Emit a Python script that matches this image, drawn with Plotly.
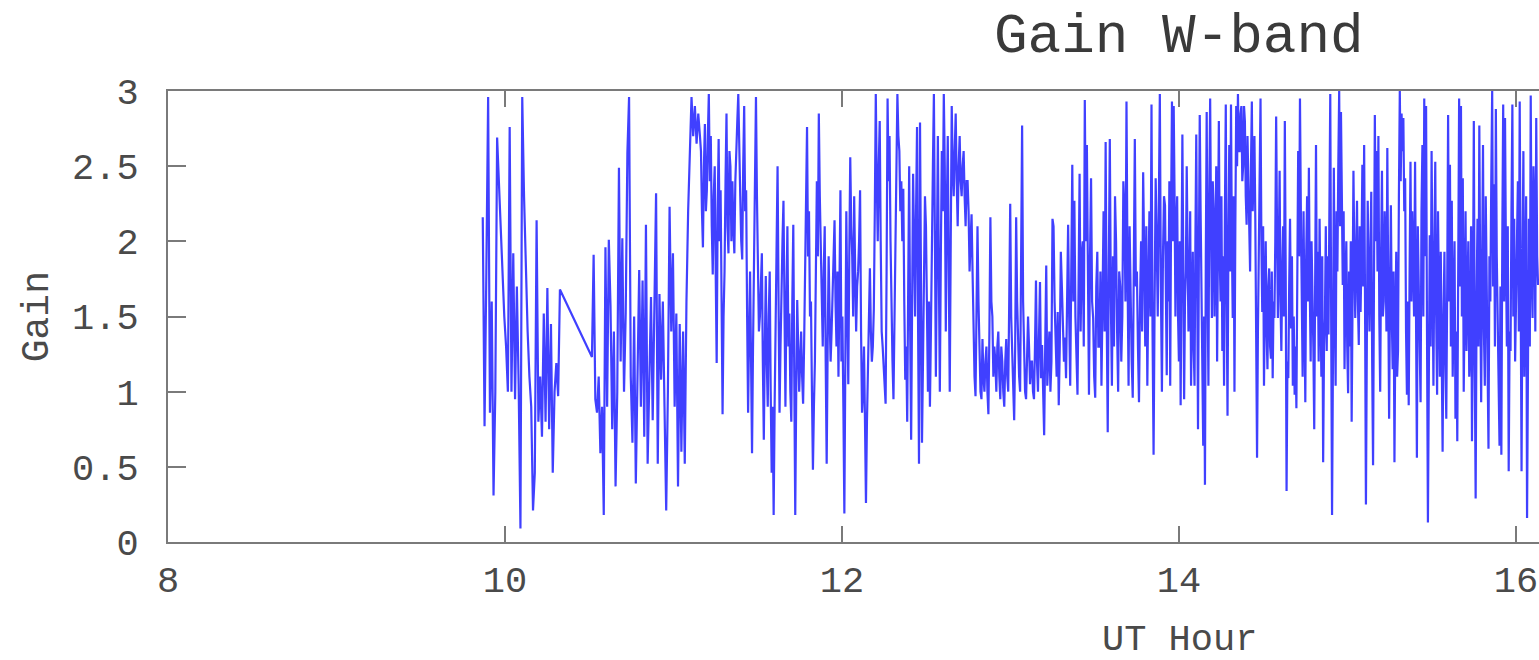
import numpy as np
import plotly.graph_objects as go

# W-band gain samples, grouped by observing block: (start UT hour, end UT hour), gain values
block1_hours = (9.868, 10.326)
block1_gain = [2.16, 0.77, 1.8, 2.96, 0.86, 1.6, 0.31, 1.0, 2.69, 2.4, 2.1, 1.7, 1.5, 1.3, 1.0,
               2.76, 1.0, 1.92, 0.95, 1.7, 1.05, 0.09, 2.96, 2.3, 1.8, 1.4, 1.1, 0.9, 0.21, 0.46,
               2.14, 0.8, 1.1, 0.7, 1.52, 0.8, 1.69, 0.75, 1.45, 0.46, 1.0, 1.19, 0.97, 1.68]

block2_hours = (10.516, 11.157)
block2_gain = [1.23, 1.91, 0.95, 0.86, 1.1, 0.59, 0.9, 0.18, 1.96, 0.9, 2.01, 1.57, 0.75, 1.4,
               0.37, 1.0, 2.49, 1.2, 2.02, 1.0, 1.52, 2.59, 2.96, 1.1, 0.66, 1.5, 0.39, 1.0, 1.81,
               0.9, 1.74, 0.7, 2.11, 0.52, 1.2, 1.63, 0.81, 1.5, 2.32, 0.52, 1.65, 1.08, 1.6, 0.9,
               0.21, 1.0, 2.23, 1.4, 1.92, 0.9, 1.52, 0.37, 1.45, 0.6, 1.4, 0.52, 1.6, 2.2, 2.67,
               2.96, 2.7, 2.9, 2.65, 2.85, 2.7]

block3_hours = (11.163, 12.457)
block3_gain = [2.6, 2.2, 1.96, 2.5, 2.78, 2.2, 2.34, 2.7, 2.98, 2.4, 2.7, 2.1, 1.78, 2.3, 2.5, 1.8,
               1.19, 2.2, 2.68, 2.0, 2.34, 1.6, 0.85, 1.5, 1.8, 2.4, 2.85, 2.1, 1.92, 2.6, 2.5, 2.0,
               2.4, 2.1, 1.92, 2.4, 2.55, 2.8, 2.98, 2.5, 2.3, 2.0, 1.88, 2.5, 2.9, 2.2, 2.34, 1.5,
               0.86, 1.4, 1.8, 1.2, 0.59, 1.3, 1.9, 2.5, 2.96, 2.3, 1.96, 1.4, 1.5, 1.8, 1.92, 1.2,
               0.68, 1.3, 1.77, 1.2, 0.9, 1.5, 1.8, 1.0, 0.46, 0.9, 0.18, 0.9, 1.4, 2.0, 2.5, 1.6,
               0.86, 1.3, 1.74, 2.0, 2.27, 1.5, 0.9, 1.6, 2.1, 1.3, 1.52, 1.0, 0.8, 1.6, 2.11, 1.1,
               0.18, 1.0, 1.61, 1.3, 1.0, 1.2, 1.4, 1.1, 0.92, 1.3, 1.7, 2.3, 2.76, 1.9, 2.2, 1.5,
               1.6, 1.0, 0.48, 0.9, 1.2, 1.8, 2.4, 1.9, 2.85, 2.3, 2.0, 1.5, 1.3, 1.8, 2.1, 1.2,
               0.52, 1.3, 1.9, 1.5, 1.2, 1.4, 1.6, 1.9, 2.14, 1.6, 1.3, 1.8, 1.1, 1.7, 2.34, 1.2,
               1.5, 0.9, 0.19, 1.2, 2.2, 1.6, 1.05, 1.9, 2.56, 2.1, 1.9, 1.5, 2.3, 1.8, 1.4, 1.7,
               1.8, 2.0, 2.34, 1.4, 0.86, 1.0, 1.3, 0.8, 0.26, 0.8, 1.1, 1.5, 1.82, 1.4, 1.2, 1.3,
               1.55, 2.2, 2.98, 2.4, 2.0, 2.5, 2.8, 2.0, 1.4, 1.3, 1.17, 1.0, 0.92, 1.8, 2.95, 2.4,
               2.7, 2.0, 1.52, 1.2, 0.95, 1.5, 1.9, 2.5, 2.98, 2.7, 2.6, 2.2, 2.4, 2.0, 2.35, 1.6,
               1.08, 1.3, 0.8, 1.7, 2.5, 1.4, 0.68, 1.6, 2.45, 2.0, 1.5, 2.2, 2.76, 1.5, 0.52]

block4_hours = (12.463, 13.163)
block4_gain = [2.79, 1.5, 0.66, 1.2, 1.6, 2.3, 2.1, 1.4, 1.0, 1.6, 0.9, 1.4, 1.8, 2.5, 2.98, 2.0,
               1.1, 1.9, 2.7, 1.8, 1.0, 1.9, 2.6, 2.2, 2.98, 2.5, 1.4, 2.2, 2.7, 1.8, 1.0, 2.0,
               2.9, 2.5, 2.3, 2.6, 2.85, 2.4, 2.1, 2.5, 2.7, 2.4, 2.3, 2.5, 2.6, 2.3, 2.1, 2.4,
               2.4, 2.2, 1.8, 2.0, 2.18, 1.8, 1.3, 1.1, 0.97, 1.5, 2.1, 1.6, 1.2, 1.0, 0.95,
               1.35, 1.1, 1.0, 1.2, 1.3, 1.0, 0.85, 1.4, 2.16, 1.6, 1.5, 1.1, 1.3, 1.2, 1.0, 1.3,
               1.4, 1.1, 0.95, 1.3, 1.2, 1.0, 0.9, 1.2, 1.35, 1.1, 1.0, 1.6, 2.25, 1.5, 1.2, 1.0,
               0.81, 1.3, 2.16, 1.6, 1.3, 1.1, 1.0, 1.7, 2.77, 1.6, 1.2, 1.0, 0.95, 1.2, 1.5, 1.3,
               1.05, 1.2, 1.2, 1.0, 0.95, 1.3, 1.74, 1.2, 1.0]

block5_hours = (13.175, 13.911)
block5_gain = [1.73, 1.09, 1.31, 1.04, 0.71, 1.3, 1.84, 1.04, 1.25, 1.40, 1.0, 1.2, 2.15, 2.1,
               1.6, 1.36, 1.1, 1.53, 0.91, 1.3, 1.93, 1.7, 1.45, 1.2, 1.36, 1.09, 1.6, 2.11, 1.5,
               1.04, 1.8, 2.51, 1.6, 2.27, 1.5, 1.2, 0.98, 1.7, 2.45, 1.4, 1.9, 2.0, 1.3, 2.94,
               2.0, 2.64, 1.5, 0.98, 1.9, 2.42, 1.6, 1.49, 1.1, 0.96, 1.7, 1.93, 1.3, 1.3, 1.8,
               1.04, 1.6, 2.2, 1.4, 2.66, 1.5, 0.73, 1.8, 2.68, 1.6, 1.04, 1.9, 1.3, 2.3, 2.0,
               1.4, 1.0, 1.8, 1.7, 1.2, 1.5, 2.4, 2.2, 1.6, 2.93, 1.8, 1.04, 2.1, 1.6, 1.2, 0.96,
               1.9, 2.68, 1.7, 1.8, 1.3, 0.93, 1.6, 2.0, 1.4, 2.46, 1.9, 1.3, 2.1, 1.04, 1.7, 2.2,
               1.5, 2.91, 1.4, 0.58, 1.6, 2.42, 2.0, 1.5, 2.2, 2.98, 1.7, 1.0, 1.9, 2.3]

block6_hours = (13.917, 14.659)
block6_gain = [2.24, 1.6, 1.11, 2.0, 1.6, 2.4, 1.04, 2.2, 2.93, 2.0, 2.9, 2.3, 1.5, 2.1, 2.3, 1.5,
               1.2, 2.0, 0.91, 1.8, 2.71, 1.9, 0.95, 1.6, 1.8, 2.5, 2.1, 1.4, 1.6, 2.2, 1.04, 1.7,
               1.93, 1.3, 1.04, 2.0, 2.71, 1.8, 0.75, 1.9, 2.84, 2.2, 1.7, 1.2, 0.64, 1.5, 0.38,
               1.9, 2.86, 1.7, 1.04, 2.3, 2.95, 2.1, 1.49, 2.4, 2.2, 1.5, 1.93, 2.5, 1.2, 2.2, 2.8,
               1.9, 1.6, 2.3, 1.27, 1.9, 1.04, 2.2, 2.91, 1.6, 0.84, 2.0, 2.64, 1.8, 2.91, 2.0,
               1.49, 2.3, 1.0, 2.1, 2.9, 2.5, 2.98, 2.6, 2.6, 2.85, 2.9, 2.4, 2.5, 2.9, 2.8, 2.3,
               2.11, 2.7, 2.4, 2.0, 1.8, 2.5, 2.93, 2.2, 2.38, 2.7, 2.15, 1.5, 0.56, 1.4, 1.93,
               2.3, 2.95, 2.0, 1.53, 2.1, 1.04, 1.6, 2.0, 1.4, 1.15, 1.7, 1.82, 1.3, 1.22, 1.8,
               1.09, 1.6, 1.49, 2.0, 2.83, 2.1, 1.49, 1.9, 2.47, 1.6, 1.27, 1.8, 2.1, 1.5, 2.8,
               1.8, 0.34, 1.2, 1.09, 1.7, 2.15]

block7_hours = (14.665, 15.395)
block7_gain = [1.42, 1.9, 1.04, 1.5, 0.98, 1.3, 0.89, 1.8, 2.6, 1.9, 2.95, 2.2, 1.6, 1.1, 2.2,
               1.4, 0.93, 1.9, 2.3, 1.6, 2.49, 1.7, 1.2, 2.0, 1.7, 1.3, 0.75, 1.8, 2.64, 1.5,
               1.93, 1.2, 2.15, 1.6, 1.1, 1.9, 0.53, 1.3, 1.49, 2.1, 1.27, 1.9, 1.38, 2.2, 2.98,
               1.5, 0.18, 1.2, 2.49, 1.6, 1.04, 2.2, 1.8, 2.5, 3.0, 2.1, 2.86, 2.3, 1.71, 2.2,
               1.15, 1.7, 2.0, 1.3, 0.99, 1.8, 1.3, 2.0, 0.80, 1.6, 2.47, 1.9, 1.49, 1.9, 2.27,
               1.6, 1.31, 2.1, 1.53, 1.9, 2.51, 1.7, 2.64, 1.6, 0.25, 1.3, 2.27, 1.8, 1.40, 1.9,
               2.33, 1.2, 0.51, 1.7, 2.84, 2.0, 2.6, 1.8, 2.7, 1.5, 1.0, 1.9, 2.47, 1.5, 1.6, 2.2,
               1.93, 1.4, 2.62, 1.7, 0.82, 1.6, 2.24, 1.5, 1.15, 1.8, 0.53, 1.4, 1.93, 1.1, 1.27,
               2.3, 3.0, 2.4, 2.85, 2.6, 2.82, 2.2, 2.42, 1.4, 0.98, 1.6, 0.91, 1.8, 2.53, 1.6,
               2.2, 1.9, 1.5]

block8_hours = (15.401, 16.131)
block8_gain = [2.53, 1.2, 0.56, 2.1, 1.71, 1.3, 0.93, 2.2, 2.64, 1.5, 2.95, 1.9, 2.9, 1.4, 0.13,
               1.1, 2.04, 1.3, 2.6, 1.8, 1.04, 1.9, 2.53, 1.5, 0.98, 2.2, 1.6, 1.1, 1.93, 1.3,
               0.6, 1.5, 1.93, 1.2, 0.82, 1.7, 2.84, 1.6, 2.51, 1.3, 2.27, 1.1, 1.49, 2.0, 0.82,
               1.4, 0.67, 1.9, 2.95, 1.7, 2.9, 1.5, 2.42, 1.0, 1.6, 2.2, 1.27, 1.8, 2.0, 1.1,
               1.27, 2.1, 0.67, 1.5, 2.8, 1.2, 0.29, 1.6, 2.15, 1.3, 2.77, 1.7, 0.93, 1.8, 2.64,
               1.4, 1.04, 2.3, 1.8, 1.2, 0.62, 1.9, 1.6, 2.4, 3.0, 1.7, 2.38, 1.3, 2.88, 1.9,
               1.49, 1.1, 0.64, 1.7, 0.58, 2.0, 2.91, 1.6, 2.82, 1.9, 1.3, 2.1, 0.47, 1.4, 1.27,
               2.2, 2.91, 1.5, 2.15, 1.2, 1.49, 2.0, 2.4, 1.4, 2.93, 1.6, 0.47, 1.8, 2.6, 1.1,
               1.6, 2.3, 0.16, 1.5, 2.15, 1.3, 2.97, 1.8, 1.49, 2.5, 2.2, 1.4, 2.82, 1.9, 1.71]

blocks = [
    (block1_hours, block1_gain),
    (block2_hours, block2_gain),
    (block3_hours, block3_gain),
    (block4_hours, block4_gain),
    (block5_hours, block5_gain),
    (block6_hours, block6_gain),
    (block7_hours, block7_gain),
    (block8_hours, block8_gain),
]

# samples inside a block are taken on a regular clock
ut_hour = np.concatenate([np.linspace(h0, h1, len(g)) for (h0, h1), g in blocks])
gain = np.concatenate([np.asarray(g, dtype=float) for _, g in blocks])

x_ticks = [8, 10, 12, 14, 16]
y_ticks = [0, 0.5, 1, 1.5, 2, 2.5, 3]
y_tick_text = ["0", "0.5", "1", "1.5", "2", "2.5", "3"]

FONT = "Liberation Mono, Courier New, monospace"
TEXT = "#4a4a4a"
AXIS = "#7a7a7a"

fig = go.Figure()
fig.add_trace(go.Scatter(
    x=ut_hour, y=gain, mode="lines",
    line=dict(color="rgba(0,0,255,0.75)", width=2.2),
    showlegend=False, hoverinfo="x+y",
))

fig.update_layout(
    width=1539, height=660,
    margin=dict(l=168, r=0, t=91, b=118),
    paper_bgcolor="white", plot_bgcolor="white",
    font=dict(family=FONT, size=37, color=TEXT),
    annotations=[
        dict(text="Gain W-band", x=14, xref="x", y=1.12, yref="paper",
             xanchor="center", yanchor="middle", showarrow=False,
             font=dict(family=FONT, size=56, color="#3a3a3a")),
        dict(text="UT Hour", x=14, xref="x", y=-0.268, yref="paper",
             xanchor="center", yanchor="bottom", showarrow=False,
             font=dict(family=FONT, size=37, color=TEXT)),
        dict(text="Gain", x=-0.095, xref="paper", y=0.5, yref="paper",
             xanchor="center", yanchor="middle", textangle=-90, showarrow=False,
             font=dict(family=FONT, size=38, color=TEXT)),
    ],
)

fig.update_xaxes(
    range=[8, 8 + 1371 / 168.5],
    tickvals=x_ticks, ticktext=[str(t) for t in x_ticks],
    ticks="inside", ticklen=16, tickwidth=2, tickcolor=AXIS,
    showline=True, linecolor=AXIS, linewidth=2, mirror="ticks",
    showgrid=False, zeroline=False,
    tickfont=dict(family=FONT, size=37, color=TEXT),
    ticklabelstandoff=4, ticklabeloverflow="allow",
)
fig.update_yaxes(
    range=[0, 3],
    tickvals=y_ticks, ticktext=y_tick_text,
    ticks="inside", ticklen=18, tickwidth=2, tickcolor=AXIS,
    showline=True, linecolor=AXIS, linewidth=2, mirror=False,
    showgrid=False, zeroline=False,
    tickfont=dict(family=FONT, size=37, color=TEXT),
    ticklabelstandoff=20,
)

fig.write_html("out.html")
